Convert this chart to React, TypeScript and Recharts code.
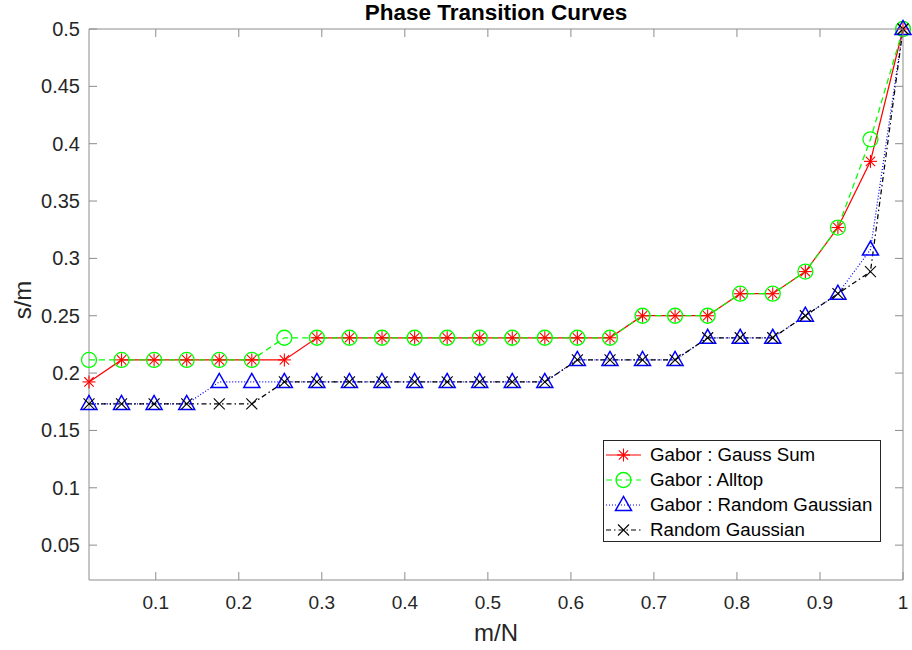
import { LineChart, Line, XAxis, YAxis, ReferenceArea, Legend } from 'recharts';

// m/N sample points
const mOverN = [
  0.0196, 0.0588, 0.098, 0.1373, 0.1765, 0.2157, 0.2549, 0.2941, 0.3333, 0.3725, 0.4118, 0.451, 0.4902,
  0.5294, 0.5686, 0.6078, 0.6471, 0.6863, 0.7255, 0.7647, 0.8039, 0.8431, 0.8824, 0.9216, 0.9608, 1,
];

// s/m at the phase transition for each matrix family
const gaborGaussSum = [
  0.1923, 0.2115, 0.2115, 0.2115, 0.2115, 0.2115, 0.2115, 0.2308, 0.2308, 0.2308, 0.2308, 0.2308, 0.2308,
  0.2308, 0.2308, 0.2308, 0.2308, 0.25, 0.25, 0.25, 0.2692, 0.2692, 0.2885, 0.3269, 0.3846, 0.5,
];
const gaborAlltop = [
  0.2115, 0.2115, 0.2115, 0.2115, 0.2115, 0.2115, 0.2308, 0.2308, 0.2308, 0.2308, 0.2308, 0.2308, 0.2308,
  0.2308, 0.2308, 0.2308, 0.2308, 0.25, 0.25, 0.25, 0.2692, 0.2692, 0.2885, 0.3269, 0.4038, 0.5,
];
const gaborRandomGaussian = [
  0.1731, 0.1731, 0.1731, 0.1731, 0.1923, 0.1923, 0.1923, 0.1923, 0.1923, 0.1923, 0.1923, 0.1923, 0.1923,
  0.1923, 0.1923, 0.2115, 0.2115, 0.2115, 0.2115, 0.2308, 0.2308, 0.2308, 0.25, 0.2692, 0.3077, 0.5,
];
const randomGaussian = [
  0.1731, 0.1731, 0.1731, 0.1731, 0.1731, 0.1731, 0.1923, 0.1923, 0.1923, 0.1923, 0.1923, 0.1923, 0.1923,
  0.1923, 0.1923, 0.2115, 0.2115, 0.2115, 0.2115, 0.2308, 0.2308, 0.2308, 0.25, 0.2692, 0.2885, 0.5,
];

const xTicks = [0.1, 0.2, 0.3, 0.4, 0.5, 0.6, 0.7, 0.8, 0.9, 1];
const yTicks = [0.05, 0.1, 0.15, 0.2, 0.25, 0.3, 0.35, 0.4, 0.45, 0.5];

const data = mOverN.map((m, i) => ({
  m,
  gaussSum: gaborGaussSum[i],
  alltop: gaborAlltop[i],
  gaborRandom: gaborRandomGaussian[i],
  random: randomGaussian[i],
}));

const FONT = '"Liberation Sans", Arial, sans-serif';
const AXIS = '#8c8c8c';
const TEXT = '#262626';
const W = 912;
const H = 650;
// plot box: x 89..903, y 29..580 (axes take 1px each)
const M = { top: 29, right: 9, bottom: 69, left: 88 };
const PLOT_TOP = 29;
const PLOT_BOTTOM = 580;
const PLOT_LEFT = 89;
const PLOT_RIGHT = 903;
const TICK = 8;

type MarkerProps = { cx: number; cy: number };

const Asterisk = ({ cx, cy }: MarkerProps) => {
  const r = 6.5;
  const d = r * 0.72;
  return (
    <g stroke="#ff0000" strokeWidth={1.1}>
      <line x1={cx - r} y1={cy} x2={cx + r} y2={cy} />
      <line x1={cx} y1={cy - r} x2={cx} y2={cy + r} />
      <line x1={cx - d} y1={cy - d} x2={cx + d} y2={cy + d} />
      <line x1={cx - d} y1={cy + d} x2={cx + d} y2={cy - d} />
    </g>
  );
};

const Circle = ({ cx, cy }: MarkerProps) => (
  <circle cx={cx} cy={cy} r={7.5} fill="none" stroke="#00ff00" strokeWidth={1.3} />
);

const Triangle = ({ cx, cy }: MarkerProps) => (
  <polygon
    points={`${cx},${cy - 8.5} ${cx - 8},${cy + 5.5} ${cx + 8},${cy + 5.5}`}
    fill="none"
    stroke="#0000ff"
    strokeWidth={1.5}
  />
);

const Cross = ({ cx, cy }: MarkerProps) => {
  const r = 5.5;
  return (
    <g stroke="#000" strokeWidth={1.1}>
      <line x1={cx - r} y1={cy - r} x2={cx + r} y2={cy + r} />
      <line x1={cx - r} y1={cy + r} x2={cx + r} y2={cy - r} />
    </g>
  );
};

const series = [
  { key: 'gaussSum', name: 'Gabor : Gauss Sum', color: '#ff0000', dash: undefined, Marker: Asterisk },
  { key: 'alltop', name: 'Gabor : Alltop', color: '#00ff00', dash: '6 4', Marker: Circle },
  { key: 'gaborRandom', name: 'Gabor : Random Gaussian', color: '#0000ff', dash: '1 2', Marker: Triangle },
  { key: 'random', name: 'Random Gaussian', color: '#000000', dash: '5 3 1.5 3', Marker: Cross },
];

const XTick = ({ x, payload }: any) => (
  <g>
    <line x1={x} x2={x} y1={PLOT_BOTTOM} y2={PLOT_BOTTOM - TICK} stroke={AXIS} />
    <line x1={x} x2={x} y1={PLOT_TOP} y2={PLOT_TOP + TICK} stroke={AXIS} />
    <text x={x} y={PLOT_BOTTOM + 29} textAnchor="middle" fontSize={19} fill={TEXT} fontFamily={FONT}>
      {payload.value}
    </text>
  </g>
);

const YTick = ({ y, payload }: any) => (
  <g>
    <line x1={PLOT_LEFT} x2={PLOT_LEFT + TICK} y1={y} y2={y} stroke={AXIS} />
    <line x1={PLOT_RIGHT} x2={PLOT_RIGHT - TICK} y1={y} y2={y} stroke={AXIS} />
    <text x={PLOT_LEFT - 9} y={y + 7} textAnchor="end" fontSize={20} fill={TEXT} fontFamily={FONT}>
      {payload.value}
    </text>
  </g>
);

const LegendBox = () => (
  <div
    style={{
      width: 278,
      height: 102,
      boxSizing: 'border-box',
      border: '1px solid #262626',
      background: '#fff',
      paddingTop: 2,
      fontFamily: FONT,
      fontSize: 18.7,
      color: '#000',
    }}
  >
    {series.map(({ key, name, color, dash, Marker }) => (
      <div key={key} style={{ display: 'flex', alignItems: 'center', height: 24.75 }}>
        <svg width={46} height={24} style={{ flex: 'none' }}>
          <line x1={2} x2={37} y1={12} y2={12} stroke={color} strokeWidth={1.2} strokeDasharray={dash} />
          <Marker cx={19.5} cy={12} />
        </svg>
        <span style={{ whiteSpace: 'nowrap' }}>{name}</span>
      </div>
    ))}
  </div>
);

export default function App() {
  return (
    <div style={{ position: 'absolute', left: 0, top: 0, width: W, height: H, background: '#fff' }}>
      <LineChart width={W} height={H} data={data} margin={M}>
        <ReferenceArea x1={0.0196} x2={1} y1={0.0196} y2={0.5} fill="none" stroke={AXIS} strokeOpacity={1} />
        <XAxis
          dataKey="m"
          type="number"
          domain={[0.0196, 1]}
          ticks={xTicks}
          interval={0}
          height={1}
          axisLine={false}
          tickLine={false}
          tick={(p: any) => <XTick key={`x-${p.index}`} {...p} />}
        />
        <YAxis
          type="number"
          domain={[0.0196, 0.5]}
          ticks={yTicks}
          interval={0}
          width={1}
          axisLine={false}
          tickLine={false}
          tick={(p: any) => <YTick key={`y-${p.index}`} {...p} />}
        />
        {series.map(({ key, name, color, dash, Marker }) => (
          <Line
            key={key}
            dataKey={key}
            name={name}
            type="linear"
            stroke={color}
            strokeWidth={1.25}
            strokeDasharray={dash}
            isAnimationActive={false}
            dot={(p: any) => <Marker key={`${key}-${p.index}`} cx={p.cx} cy={p.cy} />}
            activeDot={false}
          />
        ))}
        <Legend
          layout="horizontal"
          verticalAlign="middle"
          align="center"
          wrapperStyle={{ left: 603, top: 440, width: 278, height: 102 }}
          content={() => <LegendBox />}
        />
        <text x={496} y={20} textAnchor="middle" fontSize={22.5} fontWeight="bold" fontFamily={FONT} fill="#000">
          Phase Transition Curves
        </text>
        <text x={496} y={641} textAnchor="middle" fontSize={24} fontFamily={FONT} fill={TEXT}>
          m/N
        </text>
        <text
          x={31}
          y={300}
          textAnchor="middle"
          fontSize={24}
          fontFamily={FONT}
          fill={TEXT}
          transform="rotate(-90 31 300)"
        >
          s/m
        </text>
      </LineChart>
    </div>
  );
}
